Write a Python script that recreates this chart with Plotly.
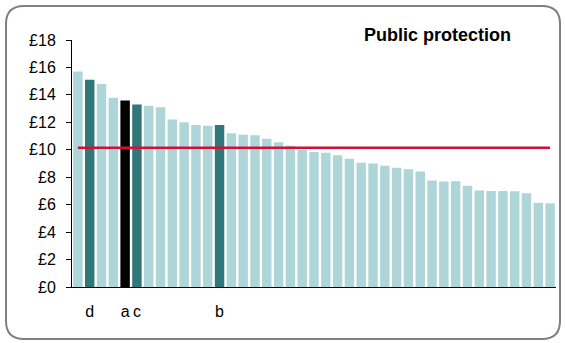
import plotly.graph_objects as go

# --- Data ---
authorities = [f"LA{i+1}" for i in range(41)]
spend = [15.7, 15.1, 14.8, 13.8, 13.6, 13.3, 13.2, 13.1, 12.2, 12.0,
         11.8, 11.75, 11.8, 11.2, 11.1, 11.05, 10.8, 10.55, 10.3, 10.0,
         9.83, 9.78, 9.6, 9.34, 9.05, 9.0, 8.83, 8.69, 8.59, 8.42,
         7.77, 7.69, 7.7, 7.37, 7.03, 7.0, 7.0, 6.98, 6.84, 6.13, 6.1]
highlight = {1: "d", 4: "a", 5: "c", 12: "b"}
selected = 4  # shown in black
average = 10.15
y_ticks = [0, 2, 4, 6, 8, 10, 12, 14, 16, 18]

LIGHT = "#AED5D8"
DARK = "#2F7778"
RED = "#D0103A"

colors = []
for i in range(len(spend)):
    if i == selected:
        colors.append("black")
    elif i in highlight:
        colors.append(DARK)
    else:
        colors.append(LIGHT)

W, H = 565, 343
L, R, T, B = 72, 9, 40, 56

fig = go.Figure()
fig.add_trace(go.Bar(
    x=authorities, y=spend,
    marker=dict(color=colors, line=dict(width=0)),
    showlegend=False, hoverinfo="y"
))
# average line
fig.add_trace(go.Scatter(
    x=[authorities[0], authorities[-1]], y=[average, average],
    mode="lines", line=dict(color=RED, width=2.5),
    showlegend=False, hoverinfo="skip"
))

# rounded frame round the whole chart (pixel coords -> paper coords)
pw, ph = W - L - R, H - T - B
def px(x):
    return (x - L) / pw
def py(y):
    return (H - B - y) / ph

x0, y0, x1, y1, r = 6, 6, 560, 339, 18
pts = [
    ("M", [(x0 + r, y0)]),
    ("L", [(x1 - r, y0)]),
    ("Q", [(x1, y0), (x1, y0 + r)]),
    ("L", [(x1, y1 - r)]),
    ("Q", [(x1, y1), (x1 - r, y1)]),
    ("L", [(x0 + r, y1)]),
    ("Q", [(x0, y1), (x0, y1 - r)]),
    ("L", [(x0, y0 + r)]),
    ("Q", [(x0, y0), (x0 + r, y0)]),
]
path = " ".join(c + " " + " ".join(f"{px(a):.5f},{py(b):.5f}" for a, b in p) for c, p in pts) + " Z"
fig.add_shape(type="path", path=path, xref="paper", yref="paper",
              line=dict(color="#808080", width=2), layer="below")

fig.add_annotation(
    text="<b>Public protection</b>", xref="paper", yref="paper",
    x=px(437), y=py(35), xanchor="center", yanchor="middle", showarrow=False,
    font=dict(family="Arial, Liberation Sans", size=18, color="black")
)

fig.update_layout(
    width=W, height=H,
    margin=dict(l=L, r=R, t=T, b=B),
    paper_bgcolor="white", plot_bgcolor="white",
    bargap=0.2,
    font=dict(family="Arial, Liberation Sans", size=16, color="black"),
    xaxis=dict(
        tickmode="array",
        tickvals=[authorities[i] for i in highlight],
        ticktext=list(highlight.values()),
        showline=True, linecolor="black", linewidth=1,
        ticks="", showgrid=False, ticklabelstandoff=10,
        range=[-0.5, len(spend) - 0.5]
    ),
    yaxis=dict(
        range=[0, 18], tickvals=y_ticks,
        ticktext=[f"£{v}" for v in y_ticks],
        showline=True, linecolor="black", linewidth=1,
        ticks="outside", ticklen=5, tickcolor="black",
        ticklabelstandoff=7,
        showgrid=False, zeroline=False
    )
)

fig.write_html("out.html", config={"displayModeBar": False},
               post_script="document.body.style.margin='0';")
